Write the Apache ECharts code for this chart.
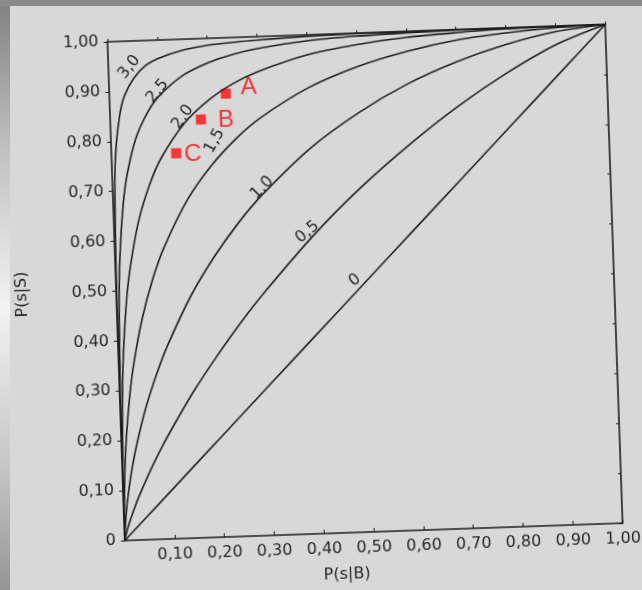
<!DOCTYPE html>
<html>
<head>
<meta charset="utf-8">
<script src="https://cdn.jsdelivr.net/npm/echarts@6/dist/echarts.min.js"></script>
<style>
  html, body { margin: 0; padding: 0; }
  body { width: 642px; height: 590px; overflow: hidden; position: relative; background: #d8d8d8; }
  #edge { position: absolute; left: 0; top: 0; width: 10px; height: 590px;
    background: linear-gradient(#808080, #c0c0c0 25%, #f2f2f2 52%, #c4c4c4 80%, #959595); }
  #band { position: absolute; left: 0; top: 0; width: 642px; height: 6px; background: #8a8a8a; }
  #main { position: absolute; left: 0; top: 0; width: 642px; height: 590px;
    transform: rotate(-2deg); transform-origin: 365px 282px; }
</style>
</head>
<body>
<div id="edge"></div>
<div id="band"></div>
<div id="main"></div>
<script>
const falseAlarm = [0, 0.001, 0.005, 0.01, 0.02, 0.03, 0.05, 0.075, 0.1, 0.15, 0.2, 0.25, 0.3, 0.4, 0.5, 0.6, 0.7, 0.8, 0.9, 1];

// P(s|S) for each d' curve, same order as falseAlarm
const hit00 = [0, 0.001, 0.005, 0.01, 0.02, 0.03, 0.05, 0.075, 0.1, 0.15, 0.2, 0.25, 0.3, 0.4, 0.5, 0.6, 0.7, 0.8, 0.9, 1];
const hit05 = [0, 0.005, 0.019, 0.034, 0.060, 0.084, 0.126, 0.174, 0.217, 0.296, 0.366, 0.431, 0.490, 0.598, 0.692, 0.774, 0.847, 0.910, 0.963, 1];
const hit10 = [0, 0.018, 0.058, 0.092, 0.146, 0.189, 0.260, 0.330, 0.389, 0.486, 0.563, 0.628, 0.683, 0.773, 0.841, 0.895, 0.936, 0.967, 0.989, 1];
const hit15 = [0, 0.056, 0.141, 0.204, 0.290, 0.352, 0.442, 0.524, 0.586, 0.679, 0.745, 0.796, 0.836, 0.894, 0.933, 0.960, 0.979, 0.990, 0.997, 1];
const hit20 = [0, 0.138, 0.282, 0.372, 0.479, 0.547, 0.639, 0.712, 0.764, 0.833, 0.877, 0.908, 0.930, 0.960, 0.977, 0.988, 0.994, 0.998, 0.9995, 1];
const hit25 = [0, 0.278, 0.470, 0.569, 0.672, 0.732, 0.804, 0.855, 0.888, 0.928, 0.951, 0.966, 0.976, 0.988, 0.994, 0.997, 0.999, 1, 1, 1];
const hit30 = [0, 0.50, 0.72, 0.79, 0.855, 0.89, 0.925, 0.95, 0.963, 0.978, 0.986, 0.990, 0.993, 0.997, 0.999, 1, 1, 1, 1, 1];

const curveNames = ["0", "0,5", "1,0", "1,5", "2,0", "2,5", "3,0"];
const curveHits = [hit00, hit05, hit10, hit15, hit20, hit25, hit30];

// the three marked points
const pointNames = ["A", "B", "C"];
const pointFalse = [0.234, 0.182, 0.130];
const pointHit = [0.888, 0.838, 0.772];

// where each curve's name sits, and its slope
const labelSpots = [
  [0.48, 0.505, 36], [0.388, 0.605, 38], [0.30, 0.697, 43], [0.208, 0.794, 60],
  [0.146, 0.844, 53], [0.097, 0.898, 48], [0.042, 0.948, 50]
];

const ink = "#1e1e1e";
const textInk = "#262626";
const font = "DejaVu Sans";
const fmt = (v) => (v === 0 ? "0" : v.toFixed(2).replace(".", ","));

const lineSeries = curveNames.map((name, i) => ({
  name: name,
  type: "line",
  showSymbol: false,
  smooth: 0.3,
  lineStyle: { color: ink, width: 1.6 },
  data: falseAlarm.map((f, j) => [f, curveHits[i][j]]),
  markPoint: {
    symbol: "circle",
    symbolSize: 1,
    itemStyle: { color: "transparent" },
    label: {
      show: true,
      formatter: name,
      rotate: labelSpots[i][2],
      fontFamily: font,
      fontSize: 16,
      color: textInk
    },
    data: [{ coord: [labelSpots[i][0], labelSpots[i][1]] }]
  }
}));

const labelShift = [[10, -6], [12, 2], [3, 2]];

const frameAxis = {
  type: "value", min: 0, max: 1, interval: 0.1,
  axisLine: { show: true, onZero: false, lineStyle: { color: ink, width: 1.6 } },
  axisLabel: { show: false },
  splitLine: { show: false }
};

const myChart = echarts.init(document.getElementById("main"));
myChart.setOption({
  animation: false,
  grid: { left: 116, top: 33, width: 498, height: 499 },
  xAxis: [
    {
      type: "value", min: 0, max: 1, interval: 0.1,
      name: "P(s|B)", nameLocation: "middle", nameGap: 34,
      nameTextStyle: { fontFamily: font, fontSize: 16, color: textInk, padding: [0, 56, 0, 0] },
      axisLine: { onZero: false, lineStyle: { color: ink, width: 1.6 } },
      axisTick: { inside: true, length: 4, lineStyle: { color: ink } },
      axisLabel: {
        margin: 8, fontFamily: font, fontSize: 16, color: textInk,
        formatter: (v) => (v === 0 ? "" : fmt(v))
      },
      splitLine: { show: false }
    },
    Object.assign({}, frameAxis, {
      position: "top",
      axisTick: { show: true, length: 3, lineStyle: { color: ink } }
    })
  ],
  yAxis: [
    {
      type: "value", min: 0, max: 1, interval: 0.1,
      name: "P(s|S)", nameLocation: "middle", nameRotate: 90, nameGap: 86,
      nameTextStyle: { fontFamily: font, fontSize: 16, color: textInk },
      axisLine: { onZero: false, lineStyle: { color: ink, width: 1.6 } },
      axisTick: { length: 4, lineStyle: { color: ink } },
      axisLabel: { margin: 9, fontFamily: font, fontSize: 16, color: textInk, formatter: fmt },
      splitLine: { show: false }
    },
    Object.assign({}, frameAxis, {
      position: "right",
      axisTick: { show: true, inside: true, length: 3, lineStyle: { color: ink } }
    })
  ],
  series: [
    ...lineSeries,
    {
      name: "points",
      type: "scatter",
      symbol: "rect",
      symbolSize: 10,
      itemStyle: { color: "#ff0a0a" },
      label: {
        show: true, position: "right",
        fontFamily: "Liberation Sans", fontSize: 24, color: "#ff0a0a",
        formatter: (p) => p.name
      },
      data: pointNames.map((n, i) => ({
        name: n,
        value: [pointFalse[i], pointHit[i]],
        label: { distance: labelShift[i][0], offset: [0, labelShift[i][1]] }
      }))
    }
  ]
});
</script>
</body>
</html>
